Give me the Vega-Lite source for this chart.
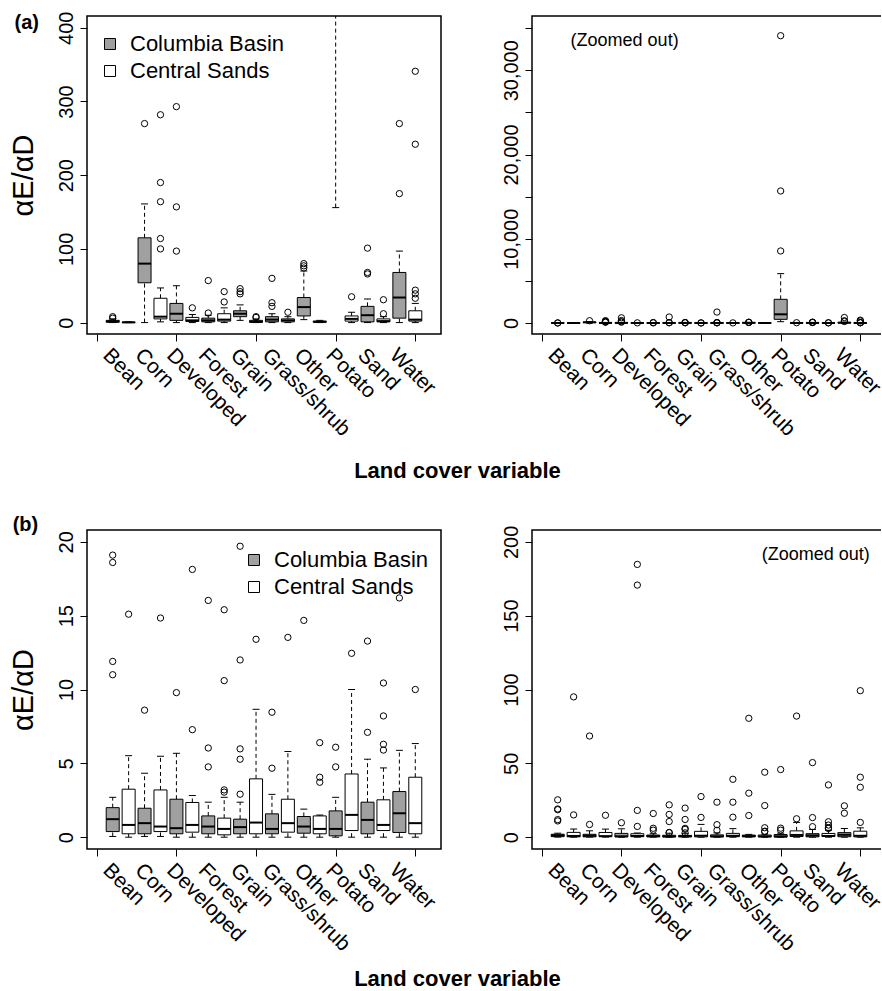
{
  "$schema": "https://vega.github.io/schema/vega-lite/v6.json",
  "padding": {"left": 8, "top": 10, "right": -6, "bottom": -1},
  "config": {
    "font": "Liberation Sans",
    "view": {"stroke": "black", "strokeWidth": 1.5},
    "axis": {"labelFont": "Liberation Sans", "titleFont": "Liberation Sans"},
    "title": {"font": "Liberation Sans"}
  },
  "datasets": {
    "boxA": [
      {"cat": "Bean", "region": "Columbia Basin", "pos": 1, "lo": 0, "q1": 0.5, "med": 1.5, "q3": 3, "hi": 5},
      {"cat": "Bean", "region": "Central Sands", "pos": 2, "lo": 0, "q1": 0, "med": 0.3, "q3": 0.6, "hi": 1},
      {"cat": "Corn", "region": "Columbia Basin", "pos": 3, "lo": 0, "q1": 54, "med": 80, "q3": 115, "hi": 161},
      {"cat": "Corn", "region": "Central Sands", "pos": 4, "lo": 1, "q1": 5, "med": 8, "q3": 33, "hi": 47},
      {"cat": "Developed", "region": "Columbia Basin", "pos": 5, "lo": 0, "q1": 3, "med": 12, "q3": 26, "hi": 50},
      {"cat": "Developed", "region": "Central Sands", "pos": 6, "lo": 0, "q1": 1.5, "med": 3, "q3": 7, "hi": 11},
      {"cat": "Forest", "region": "Columbia Basin", "pos": 7, "lo": 0, "q1": 1, "med": 3, "q3": 6, "hi": 10},
      {"cat": "Forest", "region": "Central Sands", "pos": 8, "lo": 0, "q1": 2, "med": 4, "q3": 12, "hi": 20},
      {"cat": "Grain", "region": "Columbia Basin", "pos": 9, "lo": 3, "q1": 8, "med": 12, "q3": 16, "hi": 24},
      {"cat": "Grain", "region": "Central Sands", "pos": 10, "lo": 0, "q1": 0.5, "med": 1, "q3": 3, "hi": 5},
      {"cat": "Grass/shrub", "region": "Columbia Basin", "pos": 11, "lo": 0, "q1": 1, "med": 4, "q3": 8, "hi": 12},
      {"cat": "Grass/shrub", "region": "Central Sands", "pos": 12, "lo": 0, "q1": 1, "med": 3, "q3": 5, "hi": 8},
      {"cat": "Other", "region": "Columbia Basin", "pos": 13, "lo": 4, "q1": 9, "med": 21, "q3": 34, "hi": 70},
      {"cat": "Other", "region": "Central Sands", "pos": 14, "lo": 0, "q1": 0.5, "med": 1, "q3": 2, "hi": 3},
      {"cat": "Potato", "region": "Columbia Basin", "pos": 15, "lo": 156, "q1": 435, "med": 1030, "q3": 2810, "hi": 5860},
      {"cat": "Potato", "region": "Central Sands", "pos": 16, "lo": 0, "q1": 2, "med": 5, "q3": 9, "hi": 14},
      {"cat": "Sand", "region": "Columbia Basin", "pos": 17, "lo": 0, "q1": 1, "med": 10, "q3": 22, "hi": 32},
      {"cat": "Sand", "region": "Central Sands", "pos": 18, "lo": 0, "q1": 1, "med": 2, "q3": 5, "hi": 8},
      {"cat": "Water", "region": "Columbia Basin", "pos": 19, "lo": 0, "q1": 6, "med": 34, "q3": 68, "hi": 97},
      {"cat": "Water", "region": "Central Sands", "pos": 20, "lo": 0, "q1": 2, "med": 4, "q3": 16, "hi": 26}
    ],
    "outA": [
      {"pos": 1, "v": 6}, {"pos": 1, "v": 8},
      {"pos": 3, "v": 270},
      {"pos": 4, "v": 100}, {"pos": 4, "v": 114}, {"pos": 4, "v": 164}, {"pos": 4, "v": 190}, {"pos": 4, "v": 282},
      {"pos": 5, "v": 97}, {"pos": 5, "v": 157}, {"pos": 5, "v": 293}, {"pos": 5, "v": 620},
      {"pos": 6, "v": 20},
      {"pos": 7, "v": 13}, {"pos": 7, "v": 57},
      {"pos": 8, "v": 28}, {"pos": 8, "v": 42}, {"pos": 8, "v": 710},
      {"pos": 9, "v": 39}, {"pos": 9, "v": 42}, {"pos": 9, "v": 46},
      {"pos": 10, "v": 7}, {"pos": 10, "v": 8},
      {"pos": 11, "v": 22}, {"pos": 11, "v": 27}, {"pos": 11, "v": 60}, {"pos": 11, "v": 1300},
      {"pos": 12, "v": 14},
      {"pos": 13, "v": 74}, {"pos": 13, "v": 77}, {"pos": 13, "v": 80},
      {"pos": 15, "v": 8550}, {"pos": 15, "v": 15670}, {"pos": 15, "v": 34100},
      {"pos": 16, "v": 35},
      {"pos": 17, "v": 66}, {"pos": 17, "v": 68}, {"pos": 17, "v": 101},
      {"pos": 18, "v": 12}, {"pos": 18, "v": 31},
      {"pos": 19, "v": 175}, {"pos": 19, "v": 270}, {"pos": 19, "v": 650},
      {"pos": 20, "v": 33}, {"pos": 20, "v": 39}, {"pos": 20, "v": 44}, {"pos": 20, "v": 242}, {"pos": 20, "v": 341}
    ],
    "boxB": [
      {"cat": "Bean", "region": "Columbia Basin", "pos": 1, "lo": 0.05, "q1": 0.38, "med": 1.22, "q3": 2.0, "hi": 2.7},
      {"cat": "Bean", "region": "Central Sands", "pos": 2, "lo": 0, "q1": 0.23, "med": 0.83, "q3": 3.25, "hi": 5.52},
      {"cat": "Corn", "region": "Columbia Basin", "pos": 3, "lo": 0.05, "q1": 0.23, "med": 0.95, "q3": 1.96, "hi": 4.33},
      {"cat": "Corn", "region": "Central Sands", "pos": 4, "lo": 0.05, "q1": 0.38, "med": 0.72, "q3": 3.2, "hi": 5.48},
      {"cat": "Developed", "region": "Columbia Basin", "pos": 5, "lo": 0, "q1": 0.23, "med": 0.61, "q3": 2.57, "hi": 5.68},
      {"cat": "Developed", "region": "Central Sands", "pos": 6, "lo": 0, "q1": 0.34, "med": 0.83, "q3": 2.35, "hi": 2.82},
      {"cat": "Forest", "region": "Columbia Basin", "pos": 7, "lo": 0, "q1": 0.23, "med": 0.72, "q3": 1.44, "hi": 2.37},
      {"cat": "Forest", "region": "Central Sands", "pos": 8, "lo": 0, "q1": 0.16, "med": 0.56, "q3": 1.29, "hi": 2.7},
      {"cat": "Grain", "region": "Columbia Basin", "pos": 9, "lo": 0, "q1": 0.23, "med": 0.68, "q3": 1.22, "hi": 2.37},
      {"cat": "Grain", "region": "Central Sands", "pos": 10, "lo": 0, "q1": 0.23, "med": 0.99, "q3": 3.95, "hi": 8.66},
      {"cat": "Grass/shrub", "region": "Columbia Basin", "pos": 11, "lo": 0, "q1": 0.23, "med": 0.56, "q3": 1.58, "hi": 2.9},
      {"cat": "Grass/shrub", "region": "Central Sands", "pos": 12, "lo": 0, "q1": 0.34, "med": 0.95, "q3": 2.57, "hi": 5.8},
      {"cat": "Other", "region": "Columbia Basin", "pos": 13, "lo": 0, "q1": 0.27, "med": 0.72, "q3": 1.4, "hi": 1.9},
      {"cat": "Other", "region": "Central Sands", "pos": 14, "lo": 0, "q1": 0.23, "med": 0.56, "q3": 1.44, "hi": 1.5},
      {"cat": "Potato", "region": "Columbia Basin", "pos": 15, "lo": 0, "q1": 0.09, "med": 0.56, "q3": 1.78, "hi": 2.7},
      {"cat": "Potato", "region": "Central Sands", "pos": 16, "lo": 0, "q1": 0.45, "med": 1.51, "q3": 4.28, "hi": 10.0},
      {"cat": "Sand", "region": "Columbia Basin", "pos": 17, "lo": 0, "q1": 0.23, "med": 1.17, "q3": 2.37, "hi": 5.28},
      {"cat": "Sand", "region": "Central Sands", "pos": 18, "lo": 0, "q1": 0.45, "med": 0.83, "q3": 2.53, "hi": 4.69},
      {"cat": "Water", "region": "Columbia Basin", "pos": 19, "lo": 0, "q1": 0.32, "med": 1.62, "q3": 3.09, "hi": 5.88},
      {"cat": "Water", "region": "Central Sands", "pos": 20, "lo": 0, "q1": 0.23, "med": 0.95, "q3": 4.06, "hi": 6.34}
    ],
    "outB": [
      {"pos": 1, "v": 11.0}, {"pos": 1, "v": 11.9}, {"pos": 1, "v": 18.6}, {"pos": 1, "v": 19.1}, {"pos": 1, "v": 25.3},
      {"pos": 2, "v": 15.1}, {"pos": 2, "v": 95},
      {"pos": 3, "v": 8.6}, {"pos": 3, "v": 68.5},
      {"pos": 4, "v": 14.84},
      {"pos": 5, "v": 9.79},
      {"pos": 6, "v": 7.28}, {"pos": 6, "v": 18.13}, {"pos": 6, "v": 170.7}, {"pos": 6, "v": 184.7},
      {"pos": 7, "v": 4.76}, {"pos": 7, "v": 6.04}, {"pos": 7, "v": 16.03},
      {"pos": 8, "v": 3.05}, {"pos": 8, "v": 3.2}, {"pos": 8, "v": 10.6}, {"pos": 8, "v": 15.4}, {"pos": 8, "v": 21.9},
      {"pos": 9, "v": 2.91}, {"pos": 9, "v": 5.28}, {"pos": 9, "v": 5.98}, {"pos": 9, "v": 12.0}, {"pos": 9, "v": 19.7},
      {"pos": 10, "v": 13.4}, {"pos": 10, "v": 27.5},
      {"pos": 11, "v": 4.67}, {"pos": 11, "v": 8.46}, {"pos": 11, "v": 23.7},
      {"pos": 12, "v": 13.53}, {"pos": 12, "v": 23.7}, {"pos": 12, "v": 39.2},
      {"pos": 13, "v": 14.68}, {"pos": 13, "v": 29.8}, {"pos": 13, "v": 80.5},
      {"pos": 14, "v": 3.72}, {"pos": 14, "v": 4.06}, {"pos": 14, "v": 6.4}, {"pos": 14, "v": 21.4}, {"pos": 14, "v": 44},
      {"pos": 15, "v": 4.76}, {"pos": 15, "v": 6.09}, {"pos": 15, "v": 45.8},
      {"pos": 16, "v": 12.45}, {"pos": 16, "v": 82},
      {"pos": 17, "v": 7.1}, {"pos": 17, "v": 13.28}, {"pos": 17, "v": 50.5},
      {"pos": 18, "v": 5.9}, {"pos": 18, "v": 6.29}, {"pos": 18, "v": 8.21}, {"pos": 18, "v": 10.44}, {"pos": 18, "v": 35.4},
      {"pos": 19, "v": 16.2}, {"pos": 19, "v": 21.2},
      {"pos": 20, "v": 10.0}, {"pos": 20, "v": 33.8}, {"pos": 20, "v": 40.6}, {"pos": 20, "v": 99.2}
    ],
    "notes": [
      {"panel": "AL", "pos": -4.4, "v": 406.8, "t": "(a)"},
      {"panel": "AR", "pos": 5.2, "v": 33500, "t": "(Zoomed out)"},
      {"panel": "BL", "pos": -4.48, "v": 21.12, "t": "(b)"},
      {"panel": "BR", "pos": 17.2, "v": 191, "t": "(Zoomed out)"}
    ]
  },
  "spacing": 31,
  "resolve": {"scale": {"fill": "independent"}, "legend": {"fill": "independent"}},
  "vconcat": [
    {
      "title": {"text": "Land cover variable", "orient": "bottom", "anchor": "middle", "fontSize": 22, "fontWeight": "bold", "color": "black", "offset": 21, "dx": 10},
      "spacing": 58,
      "resolve": {"scale": {"fill": "independent"}, "legend": {"fill": "independent"}},
      "hconcat": [
        {
          "width": 354, "height": 318,
          "encoding": {
            "x": {"field": "pos", "type": "quantitative", "scale": {"domain": [-0.3, 21.3], "nice": false, "zero": false},
              "axis": {"values": [0, 5, 10, 15, 20, 0.3, 2.3, 4.3, 6.3, 8.3, 10.3, 12.3, 14.3, 16.3, 18.3], "labelExpr": "datum.value % 5 === 0 ? '' : ['Bean','Corn','Developed','Forest','Grain','Grass/shrub','Other','Potato','Sand','Water'][floor(datum.value / 2)]", "tickOpacity": {"condition": {"test": "datum.value % 5 === 0", "value": 1}, "value": 0}, "labelAngle": 45, "labelAlign": "left", "labelBaseline": "alphabetic", "labelPadding": 15, "labelFontSize": 21, "labelColor": "black", "labelOverlap": false, "labelBound": false, "labelFlush": false, "labelLimit": 400, "tickSize": 7, "tickColor": "black", "domain": false, "grid": false, "title": null}}
          },
          "layer": [
            {"data": {"name": "boxA"}, "mark": {"type": "rule", "strokeDash": [4, 3], "color": "black", "clip": true},
              "encoding": {"y": {"field": "lo", "type": "quantitative", "scale": {"domain": [-15.5, 416], "nice": false, "zero": false}, "axis": {"values": [0, 100, 200, 300, 400], "title": "αE/αD", "titleFontSize": 29, "titleFontWeight": "normal", "titleColor": "black", "titlePadding": 18, "labelAngle": -90, "labelAlign": "center", "labelBaseline": "alphabetic", "labelPadding": 8, "labelFontSize": 20, "labelColor": "black", "tickSize": 7, "tickColor": "black", "domain": false, "grid": false, "labelOverlap": false, "labelFlush": false, "labelBound": false}}, "y2": {"field": "q1"}}},
            {"data": {"name": "boxA"}, "mark": {"type": "rule", "strokeDash": [4, 3], "color": "black", "clip": true},
              "encoding": {"y": {"field": "q3", "type": "quantitative", "scale": {"domain": [-15.5, 416], "nice": false, "zero": false}, "axis": {"values": [0, 100, 200, 300, 400], "title": "αE/αD", "titleFontSize": 29, "titleFontWeight": "normal", "titleColor": "black", "titlePadding": 18, "labelAngle": -90, "labelAlign": "center", "labelBaseline": "alphabetic", "labelPadding": 8, "labelFontSize": 20, "labelColor": "black", "tickSize": 7, "tickColor": "black", "domain": false, "grid": false, "labelOverlap": false, "labelFlush": false, "labelBound": false}}, "y2": {"field": "hi"}}},
            {"data": {"name": "boxA"}, "mark": {"type": "tick", "orient": "horizontal", "size": 7, "thickness": 1, "color": "black", "opacity": 1, "clip": true},
              "encoding": {"y": {"field": "lo", "type": "quantitative", "scale": {"domain": [-15.5, 416], "nice": false, "zero": false}, "axis": {"values": [0, 100, 200, 300, 400], "title": "αE/αD", "titleFontSize": 29, "titleFontWeight": "normal", "titleColor": "black", "titlePadding": 18, "labelAngle": -90, "labelAlign": "center", "labelBaseline": "alphabetic", "labelPadding": 8, "labelFontSize": 20, "labelColor": "black", "tickSize": 7, "tickColor": "black", "domain": false, "grid": false, "labelOverlap": false, "labelFlush": false, "labelBound": false}}}},
            {"data": {"name": "boxA"}, "mark": {"type": "tick", "orient": "horizontal", "size": 7, "thickness": 1, "color": "black", "opacity": 1, "clip": true},
              "encoding": {"y": {"field": "hi", "type": "quantitative", "scale": {"domain": [-15.5, 416], "nice": false, "zero": false}, "axis": {"values": [0, 100, 200, 300, 400], "title": "αE/αD", "titleFontSize": 29, "titleFontWeight": "normal", "titleColor": "black", "titlePadding": 18, "labelAngle": -90, "labelAlign": "center", "labelBaseline": "alphabetic", "labelPadding": 8, "labelFontSize": 20, "labelColor": "black", "tickSize": 7, "tickColor": "black", "domain": false, "grid": false, "labelOverlap": false, "labelFlush": false, "labelBound": false}}}},
            {"data": {"name": "boxA"}, "mark": {"type": "bar", "orient": "vertical", "size": 13, "stroke": "black", "strokeWidth": 1, "opacity": 1, "clip": true},
              "encoding": {"y": {"field": "q1", "type": "quantitative", "scale": {"domain": [-15.5, 416], "nice": false, "zero": false}, "axis": {"values": [0, 100, 200, 300, 400], "title": "αE/αD", "titleFontSize": 29, "titleFontWeight": "normal", "titleColor": "black", "titlePadding": 18, "labelAngle": -90, "labelAlign": "center", "labelBaseline": "alphabetic", "labelPadding": 8, "labelFontSize": 20, "labelColor": "black", "tickSize": 7, "tickColor": "black", "domain": false, "grid": false, "labelOverlap": false, "labelFlush": false, "labelBound": false}}, "y2": {"field": "q3"},
                "fill": {"field": "region", "type": "nominal", "scale": {"domain": ["Columbia Basin", "Central Sands"], "range": ["#a0a0a0", "#ffffff"]},
                  "legend": {"title": null, "orient": "none", "legendX": 12, "legendY": 17, "symbolType": "square", "symbolSize": 121, "symbolStrokeColor": "black", "symbolStrokeWidth": 1, "labelFontSize": 22, "labelFont": "Liberation Sans", "labelColor": "black", "labelOffset": 9, "rowPadding": 5, "padding": 0, "labelLimit": 400}}}},
            {"data": {"name": "boxA"}, "mark": {"type": "tick", "orient": "horizontal", "size": 13, "thickness": 2, "color": "black", "opacity": 1, "clip": true},
              "encoding": {"y": {"field": "med", "type": "quantitative", "scale": {"domain": [-15.5, 416], "nice": false, "zero": false}, "axis": {"values": [0, 100, 200, 300, 400], "title": "αE/αD", "titleFontSize": 29, "titleFontWeight": "normal", "titleColor": "black", "titlePadding": 18, "labelAngle": -90, "labelAlign": "center", "labelBaseline": "alphabetic", "labelPadding": 8, "labelFontSize": 20, "labelColor": "black", "tickSize": 7, "tickColor": "black", "domain": false, "grid": false, "labelOverlap": false, "labelFlush": false, "labelBound": false}}}},
            {"data": {"name": "outA"}, "mark": {"type": "point", "shape": "circle", "filled": false, "size": 40, "color": "black", "strokeWidth": 1, "opacity": 1, "clip": true},
              "encoding": {"y": {"field": "v", "type": "quantitative", "scale": {"domain": [-15.5, 416], "nice": false, "zero": false}, "axis": {"values": [0, 100, 200, 300, 400], "title": "αE/αD", "titleFontSize": 29, "titleFontWeight": "normal", "titleColor": "black", "titlePadding": 18, "labelAngle": -90, "labelAlign": "center", "labelBaseline": "alphabetic", "labelPadding": 8, "labelFontSize": 20, "labelColor": "black", "tickSize": 7, "tickColor": "black", "domain": false, "grid": false, "labelOverlap": false, "labelFlush": false, "labelBound": false}}}},
            {"data": {"name": "notes"}, "transform": [{"filter": "datum.panel === 'AL'"}], "mark": {"type": "text", "fontSize": 20, "fontWeight": "bold", "color": "black", "align": "center", "baseline": "middle"},
              "encoding": {"y": {"field": "v", "type": "quantitative", "scale": {"domain": [-15.5, 416], "nice": false, "zero": false}, "axis": {"values": [0, 100, 200, 300, 400], "title": "αE/αD", "titleFontSize": 29, "titleFontWeight": "normal", "titleColor": "black", "titlePadding": 18, "labelAngle": -90, "labelAlign": "center", "labelBaseline": "alphabetic", "labelPadding": 8, "labelFontSize": 20, "labelColor": "black", "tickSize": 7, "tickColor": "black", "domain": false, "grid": false, "labelOverlap": false, "labelFlush": false, "labelBound": false}}, "text": {"field": "t"}}}
          ]
        },
        {
          "width": 354, "height": 318,
          "encoding": {
            "x": {"field": "pos", "type": "quantitative", "scale": {"domain": [-0.3, 21.3], "nice": false, "zero": false},
              "axis": {"values": [0, 5, 10, 15, 20, 0.3, 2.3, 4.3, 6.3, 8.3, 10.3, 12.3, 14.3, 16.3, 18.3], "labelExpr": "datum.value % 5 === 0 ? '' : ['Bean','Corn','Developed','Forest','Grain','Grass/shrub','Other','Potato','Sand','Water'][floor(datum.value / 2)]", "tickOpacity": {"condition": {"test": "datum.value % 5 === 0", "value": 1}, "value": 0}, "labelAngle": 45, "labelAlign": "left", "labelBaseline": "alphabetic", "labelPadding": 15, "labelFontSize": 21, "labelColor": "black", "labelOverlap": false, "labelBound": false, "labelFlush": false, "labelLimit": 400, "tickSize": 7, "tickColor": "black", "domain": false, "grid": false, "title": null}}
          },
          "layer": [
            {"data": {"name": "boxA"}, "mark": {"type": "rule", "strokeDash": [4, 3], "color": "black", "clip": true},
              "encoding": {"y": {"field": "lo", "type": "quantitative", "scale": {"domain": [-1306, 36440], "nice": false, "zero": false}, "axis": {"values": [0, 5000, 10000, 15000, 20000, 25000, 30000, 35000], "labelExpr": "datum.value % 10000 === 0 ? format(datum.value, ',') : ''", "title": null, "labelAngle": -90, "labelAlign": "center", "labelBaseline": "alphabetic", "labelPadding": 8, "labelFontSize": 20, "labelColor": "black", "tickSize": 7, "tickColor": "black", "domain": false, "grid": false, "labelOverlap": false, "labelFlush": false, "labelBound": false}}, "y2": {"field": "q1"}}},
            {"data": {"name": "boxA"}, "mark": {"type": "rule", "strokeDash": [4, 3], "color": "black", "clip": true},
              "encoding": {"y": {"field": "q3", "type": "quantitative", "scale": {"domain": [-1306, 36440], "nice": false, "zero": false}, "axis": {"values": [0, 5000, 10000, 15000, 20000, 25000, 30000, 35000], "labelExpr": "datum.value % 10000 === 0 ? format(datum.value, ',') : ''", "title": null, "labelAngle": -90, "labelAlign": "center", "labelBaseline": "alphabetic", "labelPadding": 8, "labelFontSize": 20, "labelColor": "black", "tickSize": 7, "tickColor": "black", "domain": false, "grid": false, "labelOverlap": false, "labelFlush": false, "labelBound": false}}, "y2": {"field": "hi"}}},
            {"data": {"name": "boxA"}, "mark": {"type": "tick", "orient": "horizontal", "size": 7, "thickness": 1, "color": "black", "opacity": 1, "clip": true},
              "encoding": {"y": {"field": "lo", "type": "quantitative", "scale": {"domain": [-1306, 36440], "nice": false, "zero": false}, "axis": {"values": [0, 5000, 10000, 15000, 20000, 25000, 30000, 35000], "labelExpr": "datum.value % 10000 === 0 ? format(datum.value, ',') : ''", "title": null, "labelAngle": -90, "labelAlign": "center", "labelBaseline": "alphabetic", "labelPadding": 8, "labelFontSize": 20, "labelColor": "black", "tickSize": 7, "tickColor": "black", "domain": false, "grid": false, "labelOverlap": false, "labelFlush": false, "labelBound": false}}}},
            {"data": {"name": "boxA"}, "mark": {"type": "tick", "orient": "horizontal", "size": 7, "thickness": 1, "color": "black", "opacity": 1, "clip": true},
              "encoding": {"y": {"field": "hi", "type": "quantitative", "scale": {"domain": [-1306, 36440], "nice": false, "zero": false}, "axis": {"values": [0, 5000, 10000, 15000, 20000, 25000, 30000, 35000], "labelExpr": "datum.value % 10000 === 0 ? format(datum.value, ',') : ''", "title": null, "labelAngle": -90, "labelAlign": "center", "labelBaseline": "alphabetic", "labelPadding": 8, "labelFontSize": 20, "labelColor": "black", "tickSize": 7, "tickColor": "black", "domain": false, "grid": false, "labelOverlap": false, "labelFlush": false, "labelBound": false}}}},
            {"data": {"name": "boxA"}, "mark": {"type": "bar", "orient": "vertical", "size": 13, "stroke": "black", "strokeWidth": 1, "opacity": 1, "clip": true},
              "encoding": {"y": {"field": "q1", "type": "quantitative", "scale": {"domain": [-1306, 36440], "nice": false, "zero": false}, "axis": {"values": [0, 5000, 10000, 15000, 20000, 25000, 30000, 35000], "labelExpr": "datum.value % 10000 === 0 ? format(datum.value, ',') : ''", "title": null, "labelAngle": -90, "labelAlign": "center", "labelBaseline": "alphabetic", "labelPadding": 8, "labelFontSize": 20, "labelColor": "black", "tickSize": 7, "tickColor": "black", "domain": false, "grid": false, "labelOverlap": false, "labelFlush": false, "labelBound": false}}, "y2": {"field": "q3"},
                "fill": {"field": "region", "type": "nominal", "scale": {"domain": ["Columbia Basin", "Central Sands"], "range": ["#a0a0a0", "#ffffff"]}, "legend": null}}},
            {"data": {"name": "boxA"}, "mark": {"type": "tick", "orient": "horizontal", "size": 13, "thickness": 2, "color": "black", "opacity": 1, "clip": true},
              "encoding": {"y": {"field": "med", "type": "quantitative", "scale": {"domain": [-1306, 36440], "nice": false, "zero": false}, "axis": {"values": [0, 5000, 10000, 15000, 20000, 25000, 30000, 35000], "labelExpr": "datum.value % 10000 === 0 ? format(datum.value, ',') : ''", "title": null, "labelAngle": -90, "labelAlign": "center", "labelBaseline": "alphabetic", "labelPadding": 8, "labelFontSize": 20, "labelColor": "black", "tickSize": 7, "tickColor": "black", "domain": false, "grid": false, "labelOverlap": false, "labelFlush": false, "labelBound": false}}}},
            {"data": {"name": "outA"}, "mark": {"type": "point", "shape": "circle", "filled": false, "size": 40, "color": "black", "strokeWidth": 1, "opacity": 1, "clip": true},
              "encoding": {"y": {"field": "v", "type": "quantitative", "scale": {"domain": [-1306, 36440], "nice": false, "zero": false}, "axis": {"values": [0, 5000, 10000, 15000, 20000, 25000, 30000, 35000], "labelExpr": "datum.value % 10000 === 0 ? format(datum.value, ',') : ''", "title": null, "labelAngle": -90, "labelAlign": "center", "labelBaseline": "alphabetic", "labelPadding": 8, "labelFontSize": 20, "labelColor": "black", "tickSize": 7, "tickColor": "black", "domain": false, "grid": false, "labelOverlap": false, "labelFlush": false, "labelBound": false}}}},
            {"data": {"name": "notes"}, "transform": [{"filter": "datum.panel === 'AR'"}], "mark": {"type": "text", "fontSize": 18, "color": "black", "align": "center", "baseline": "middle"},
              "encoding": {"y": {"field": "v", "type": "quantitative", "scale": {"domain": [-1306, 36440], "nice": false, "zero": false}, "axis": {"values": [0, 5000, 10000, 15000, 20000, 25000, 30000, 35000], "labelExpr": "datum.value % 10000 === 0 ? format(datum.value, ',') : ''", "title": null, "labelAngle": -90, "labelAlign": "center", "labelBaseline": "alphabetic", "labelPadding": 8, "labelFontSize": 20, "labelColor": "black", "tickSize": 7, "tickColor": "black", "domain": false, "grid": false, "labelOverlap": false, "labelFlush": false, "labelBound": false}}, "text": {"field": "t"}}}
          ]
        }
      ]
    },
    {
      "title": {"text": "Land cover variable", "orient": "bottom", "anchor": "middle", "fontSize": 22, "fontWeight": "bold", "color": "black", "offset": 14, "dx": 10},
      "spacing": 58,
      "resolve": {"scale": {"fill": "independent"}, "legend": {"fill": "independent"}},
      "hconcat": [
        {
          "width": 354, "height": 319,
          "encoding": {
            "x": {"field": "pos", "type": "quantitative", "scale": {"domain": [-0.3, 21.3], "nice": false, "zero": false},
              "axis": {"values": [0, 5, 10, 15, 20, 0.3, 2.3, 4.3, 6.3, 8.3, 10.3, 12.3, 14.3, 16.3, 18.3], "labelExpr": "datum.value % 5 === 0 ? '' : ['Bean','Corn','Developed','Forest','Grain','Grass/shrub','Other','Potato','Sand','Water'][floor(datum.value / 2)]", "tickOpacity": {"condition": {"test": "datum.value % 5 === 0", "value": 1}, "value": 0}, "labelAngle": 45, "labelAlign": "left", "labelBaseline": "alphabetic", "labelPadding": 15, "labelFontSize": 21, "labelColor": "black", "labelOverlap": false, "labelBound": false, "labelFlush": false, "labelLimit": 400, "tickSize": 7, "tickColor": "black", "domain": false, "grid": false, "title": null}}
          },
          "layer": [
            {"data": {"name": "boxB"}, "mark": {"type": "rule", "strokeDash": [4, 3], "color": "black", "clip": true},
              "encoding": {"y": {"field": "lo", "type": "quantitative", "scale": {"domain": [-0.8, 20.8], "nice": false, "zero": false}, "axis": {"values": [0, 5, 10, 15, 20], "title": "αE/αD", "titleFontSize": 29, "titleFontWeight": "normal", "titleColor": "black", "titlePadding": 18, "labelAngle": -90, "labelAlign": "center", "labelBaseline": "alphabetic", "labelPadding": 8, "labelFontSize": 20, "labelColor": "black", "tickSize": 7, "tickColor": "black", "domain": false, "grid": false, "labelOverlap": false, "labelFlush": false, "labelBound": false}}, "y2": {"field": "q1"}}},
            {"data": {"name": "boxB"}, "mark": {"type": "rule", "strokeDash": [4, 3], "color": "black", "clip": true},
              "encoding": {"y": {"field": "q3", "type": "quantitative", "scale": {"domain": [-0.8, 20.8], "nice": false, "zero": false}, "axis": {"values": [0, 5, 10, 15, 20], "title": "αE/αD", "titleFontSize": 29, "titleFontWeight": "normal", "titleColor": "black", "titlePadding": 18, "labelAngle": -90, "labelAlign": "center", "labelBaseline": "alphabetic", "labelPadding": 8, "labelFontSize": 20, "labelColor": "black", "tickSize": 7, "tickColor": "black", "domain": false, "grid": false, "labelOverlap": false, "labelFlush": false, "labelBound": false}}, "y2": {"field": "hi"}}},
            {"data": {"name": "boxB"}, "mark": {"type": "tick", "orient": "horizontal", "size": 7, "thickness": 1, "color": "black", "opacity": 1, "clip": true},
              "encoding": {"y": {"field": "lo", "type": "quantitative", "scale": {"domain": [-0.8, 20.8], "nice": false, "zero": false}, "axis": {"values": [0, 5, 10, 15, 20], "title": "αE/αD", "titleFontSize": 29, "titleFontWeight": "normal", "titleColor": "black", "titlePadding": 18, "labelAngle": -90, "labelAlign": "center", "labelBaseline": "alphabetic", "labelPadding": 8, "labelFontSize": 20, "labelColor": "black", "tickSize": 7, "tickColor": "black", "domain": false, "grid": false, "labelOverlap": false, "labelFlush": false, "labelBound": false}}}},
            {"data": {"name": "boxB"}, "mark": {"type": "tick", "orient": "horizontal", "size": 7, "thickness": 1, "color": "black", "opacity": 1, "clip": true},
              "encoding": {"y": {"field": "hi", "type": "quantitative", "scale": {"domain": [-0.8, 20.8], "nice": false, "zero": false}, "axis": {"values": [0, 5, 10, 15, 20], "title": "αE/αD", "titleFontSize": 29, "titleFontWeight": "normal", "titleColor": "black", "titlePadding": 18, "labelAngle": -90, "labelAlign": "center", "labelBaseline": "alphabetic", "labelPadding": 8, "labelFontSize": 20, "labelColor": "black", "tickSize": 7, "tickColor": "black", "domain": false, "grid": false, "labelOverlap": false, "labelFlush": false, "labelBound": false}}}},
            {"data": {"name": "boxB"}, "mark": {"type": "bar", "orient": "vertical", "size": 13, "stroke": "black", "strokeWidth": 1, "opacity": 1, "clip": true},
              "encoding": {"y": {"field": "q1", "type": "quantitative", "scale": {"domain": [-0.8, 20.8], "nice": false, "zero": false}, "axis": {"values": [0, 5, 10, 15, 20], "title": "αE/αD", "titleFontSize": 29, "titleFontWeight": "normal", "titleColor": "black", "titlePadding": 18, "labelAngle": -90, "labelAlign": "center", "labelBaseline": "alphabetic", "labelPadding": 8, "labelFontSize": 20, "labelColor": "black", "tickSize": 7, "tickColor": "black", "domain": false, "grid": false, "labelOverlap": false, "labelFlush": false, "labelBound": false}}, "y2": {"field": "q3"},
                "fill": {"field": "region", "type": "nominal", "scale": {"domain": ["Columbia Basin", "Central Sands"], "range": ["#a0a0a0", "#ffffff"]},
                  "legend": {"title": null, "orient": "none", "legendX": 156, "legendY": 19, "symbolType": "square", "symbolSize": 121, "symbolStrokeColor": "black", "symbolStrokeWidth": 1, "labelFontSize": 22, "labelFont": "Liberation Sans", "labelColor": "black", "labelOffset": 9, "rowPadding": 5, "padding": 0, "labelLimit": 400}}}},
            {"data": {"name": "boxB"}, "mark": {"type": "tick", "orient": "horizontal", "size": 13, "thickness": 2, "color": "black", "opacity": 1, "clip": true},
              "encoding": {"y": {"field": "med", "type": "quantitative", "scale": {"domain": [-0.8, 20.8], "nice": false, "zero": false}, "axis": {"values": [0, 5, 10, 15, 20], "title": "αE/αD", "titleFontSize": 29, "titleFontWeight": "normal", "titleColor": "black", "titlePadding": 18, "labelAngle": -90, "labelAlign": "center", "labelBaseline": "alphabetic", "labelPadding": 8, "labelFontSize": 20, "labelColor": "black", "tickSize": 7, "tickColor": "black", "domain": false, "grid": false, "labelOverlap": false, "labelFlush": false, "labelBound": false}}}},
            {"data": {"name": "outB"}, "mark": {"type": "point", "shape": "circle", "filled": false, "size": 40, "color": "black", "strokeWidth": 1, "opacity": 1, "clip": true},
              "encoding": {"y": {"field": "v", "type": "quantitative", "scale": {"domain": [-0.8, 20.8], "nice": false, "zero": false}, "axis": {"values": [0, 5, 10, 15, 20], "title": "αE/αD", "titleFontSize": 29, "titleFontWeight": "normal", "titleColor": "black", "titlePadding": 18, "labelAngle": -90, "labelAlign": "center", "labelBaseline": "alphabetic", "labelPadding": 8, "labelFontSize": 20, "labelColor": "black", "tickSize": 7, "tickColor": "black", "domain": false, "grid": false, "labelOverlap": false, "labelFlush": false, "labelBound": false}}}},
            {"data": {"name": "notes"}, "transform": [{"filter": "datum.panel === 'BL'"}], "mark": {"type": "text", "fontSize": 20, "fontWeight": "bold", "color": "black", "align": "center", "baseline": "middle"},
              "encoding": {"y": {"field": "v", "type": "quantitative", "scale": {"domain": [-0.8, 20.8], "nice": false, "zero": false}, "axis": {"values": [0, 5, 10, 15, 20], "title": "αE/αD", "titleFontSize": 29, "titleFontWeight": "normal", "titleColor": "black", "titlePadding": 18, "labelAngle": -90, "labelAlign": "center", "labelBaseline": "alphabetic", "labelPadding": 8, "labelFontSize": 20, "labelColor": "black", "tickSize": 7, "tickColor": "black", "domain": false, "grid": false, "labelOverlap": false, "labelFlush": false, "labelBound": false}}, "text": {"field": "t"}}}
          ]
        },
        {
          "width": 354, "height": 319,
          "encoding": {
            "x": {"field": "pos", "type": "quantitative", "scale": {"domain": [-0.3, 21.3], "nice": false, "zero": false},
              "axis": {"values": [0, 5, 10, 15, 20, 0.3, 2.3, 4.3, 6.3, 8.3, 10.3, 12.3, 14.3, 16.3, 18.3], "labelExpr": "datum.value % 5 === 0 ? '' : ['Bean','Corn','Developed','Forest','Grain','Grass/shrub','Other','Potato','Sand','Water'][floor(datum.value / 2)]", "tickOpacity": {"condition": {"test": "datum.value % 5 === 0", "value": 1}, "value": 0}, "labelAngle": 45, "labelAlign": "left", "labelBaseline": "alphabetic", "labelPadding": 15, "labelFontSize": 21, "labelColor": "black", "labelOverlap": false, "labelBound": false, "labelFlush": false, "labelLimit": 400, "tickSize": 7, "tickColor": "black", "domain": false, "grid": false, "title": null}}
          },
          "layer": [
            {"data": {"name": "boxB"}, "mark": {"type": "rule", "strokeDash": [4, 3], "color": "black", "clip": true},
              "encoding": {"y": {"field": "lo", "type": "quantitative", "scale": {"domain": [-8, 208], "nice": false, "zero": false}, "axis": {"values": [0, 50, 100, 150, 200], "title": null, "labelAngle": -90, "labelAlign": "center", "labelBaseline": "alphabetic", "labelPadding": 8, "labelFontSize": 20, "labelColor": "black", "tickSize": 7, "tickColor": "black", "domain": false, "grid": false, "labelOverlap": false, "labelFlush": false, "labelBound": false}}, "y2": {"field": "q1"}}},
            {"data": {"name": "boxB"}, "mark": {"type": "rule", "strokeDash": [4, 3], "color": "black", "clip": true},
              "encoding": {"y": {"field": "q3", "type": "quantitative", "scale": {"domain": [-8, 208], "nice": false, "zero": false}, "axis": {"values": [0, 50, 100, 150, 200], "title": null, "labelAngle": -90, "labelAlign": "center", "labelBaseline": "alphabetic", "labelPadding": 8, "labelFontSize": 20, "labelColor": "black", "tickSize": 7, "tickColor": "black", "domain": false, "grid": false, "labelOverlap": false, "labelFlush": false, "labelBound": false}}, "y2": {"field": "hi"}}},
            {"data": {"name": "boxB"}, "mark": {"type": "tick", "orient": "horizontal", "size": 7, "thickness": 1, "color": "black", "opacity": 1, "clip": true},
              "encoding": {"y": {"field": "lo", "type": "quantitative", "scale": {"domain": [-8, 208], "nice": false, "zero": false}, "axis": {"values": [0, 50, 100, 150, 200], "title": null, "labelAngle": -90, "labelAlign": "center", "labelBaseline": "alphabetic", "labelPadding": 8, "labelFontSize": 20, "labelColor": "black", "tickSize": 7, "tickColor": "black", "domain": false, "grid": false, "labelOverlap": false, "labelFlush": false, "labelBound": false}}}},
            {"data": {"name": "boxB"}, "mark": {"type": "tick", "orient": "horizontal", "size": 7, "thickness": 1, "color": "black", "opacity": 1, "clip": true},
              "encoding": {"y": {"field": "hi", "type": "quantitative", "scale": {"domain": [-8, 208], "nice": false, "zero": false}, "axis": {"values": [0, 50, 100, 150, 200], "title": null, "labelAngle": -90, "labelAlign": "center", "labelBaseline": "alphabetic", "labelPadding": 8, "labelFontSize": 20, "labelColor": "black", "tickSize": 7, "tickColor": "black", "domain": false, "grid": false, "labelOverlap": false, "labelFlush": false, "labelBound": false}}}},
            {"data": {"name": "boxB"}, "mark": {"type": "bar", "orient": "vertical", "size": 13, "stroke": "black", "strokeWidth": 1, "opacity": 1, "clip": true},
              "encoding": {"y": {"field": "q1", "type": "quantitative", "scale": {"domain": [-8, 208], "nice": false, "zero": false}, "axis": {"values": [0, 50, 100, 150, 200], "title": null, "labelAngle": -90, "labelAlign": "center", "labelBaseline": "alphabetic", "labelPadding": 8, "labelFontSize": 20, "labelColor": "black", "tickSize": 7, "tickColor": "black", "domain": false, "grid": false, "labelOverlap": false, "labelFlush": false, "labelBound": false}}, "y2": {"field": "q3"},
                "fill": {"field": "region", "type": "nominal", "scale": {"domain": ["Columbia Basin", "Central Sands"], "range": ["#a0a0a0", "#ffffff"]}, "legend": null}}},
            {"data": {"name": "boxB"}, "mark": {"type": "tick", "orient": "horizontal", "size": 13, "thickness": 2, "color": "black", "opacity": 1, "clip": true},
              "encoding": {"y": {"field": "med", "type": "quantitative", "scale": {"domain": [-8, 208], "nice": false, "zero": false}, "axis": {"values": [0, 50, 100, 150, 200], "title": null, "labelAngle": -90, "labelAlign": "center", "labelBaseline": "alphabetic", "labelPadding": 8, "labelFontSize": 20, "labelColor": "black", "tickSize": 7, "tickColor": "black", "domain": false, "grid": false, "labelOverlap": false, "labelFlush": false, "labelBound": false}}}},
            {"data": {"name": "outB"}, "mark": {"type": "point", "shape": "circle", "filled": false, "size": 40, "color": "black", "strokeWidth": 1, "opacity": 1, "clip": true},
              "encoding": {"y": {"field": "v", "type": "quantitative", "scale": {"domain": [-8, 208], "nice": false, "zero": false}, "axis": {"values": [0, 50, 100, 150, 200], "title": null, "labelAngle": -90, "labelAlign": "center", "labelBaseline": "alphabetic", "labelPadding": 8, "labelFontSize": 20, "labelColor": "black", "tickSize": 7, "tickColor": "black", "domain": false, "grid": false, "labelOverlap": false, "labelFlush": false, "labelBound": false}}}},
            {"data": {"name": "notes"}, "transform": [{"filter": "datum.panel === 'BR'"}], "mark": {"type": "text", "fontSize": 18, "color": "black", "align": "center", "baseline": "middle"},
              "encoding": {"y": {"field": "v", "type": "quantitative", "scale": {"domain": [-8, 208], "nice": false, "zero": false}, "axis": {"values": [0, 50, 100, 150, 200], "title": null, "labelAngle": -90, "labelAlign": "center", "labelBaseline": "alphabetic", "labelPadding": 8, "labelFontSize": 20, "labelColor": "black", "tickSize": 7, "tickColor": "black", "domain": false, "grid": false, "labelOverlap": false, "labelFlush": false, "labelBound": false}}, "text": {"field": "t"}}}
          ]
        }
      ]
    }
  ]
}
